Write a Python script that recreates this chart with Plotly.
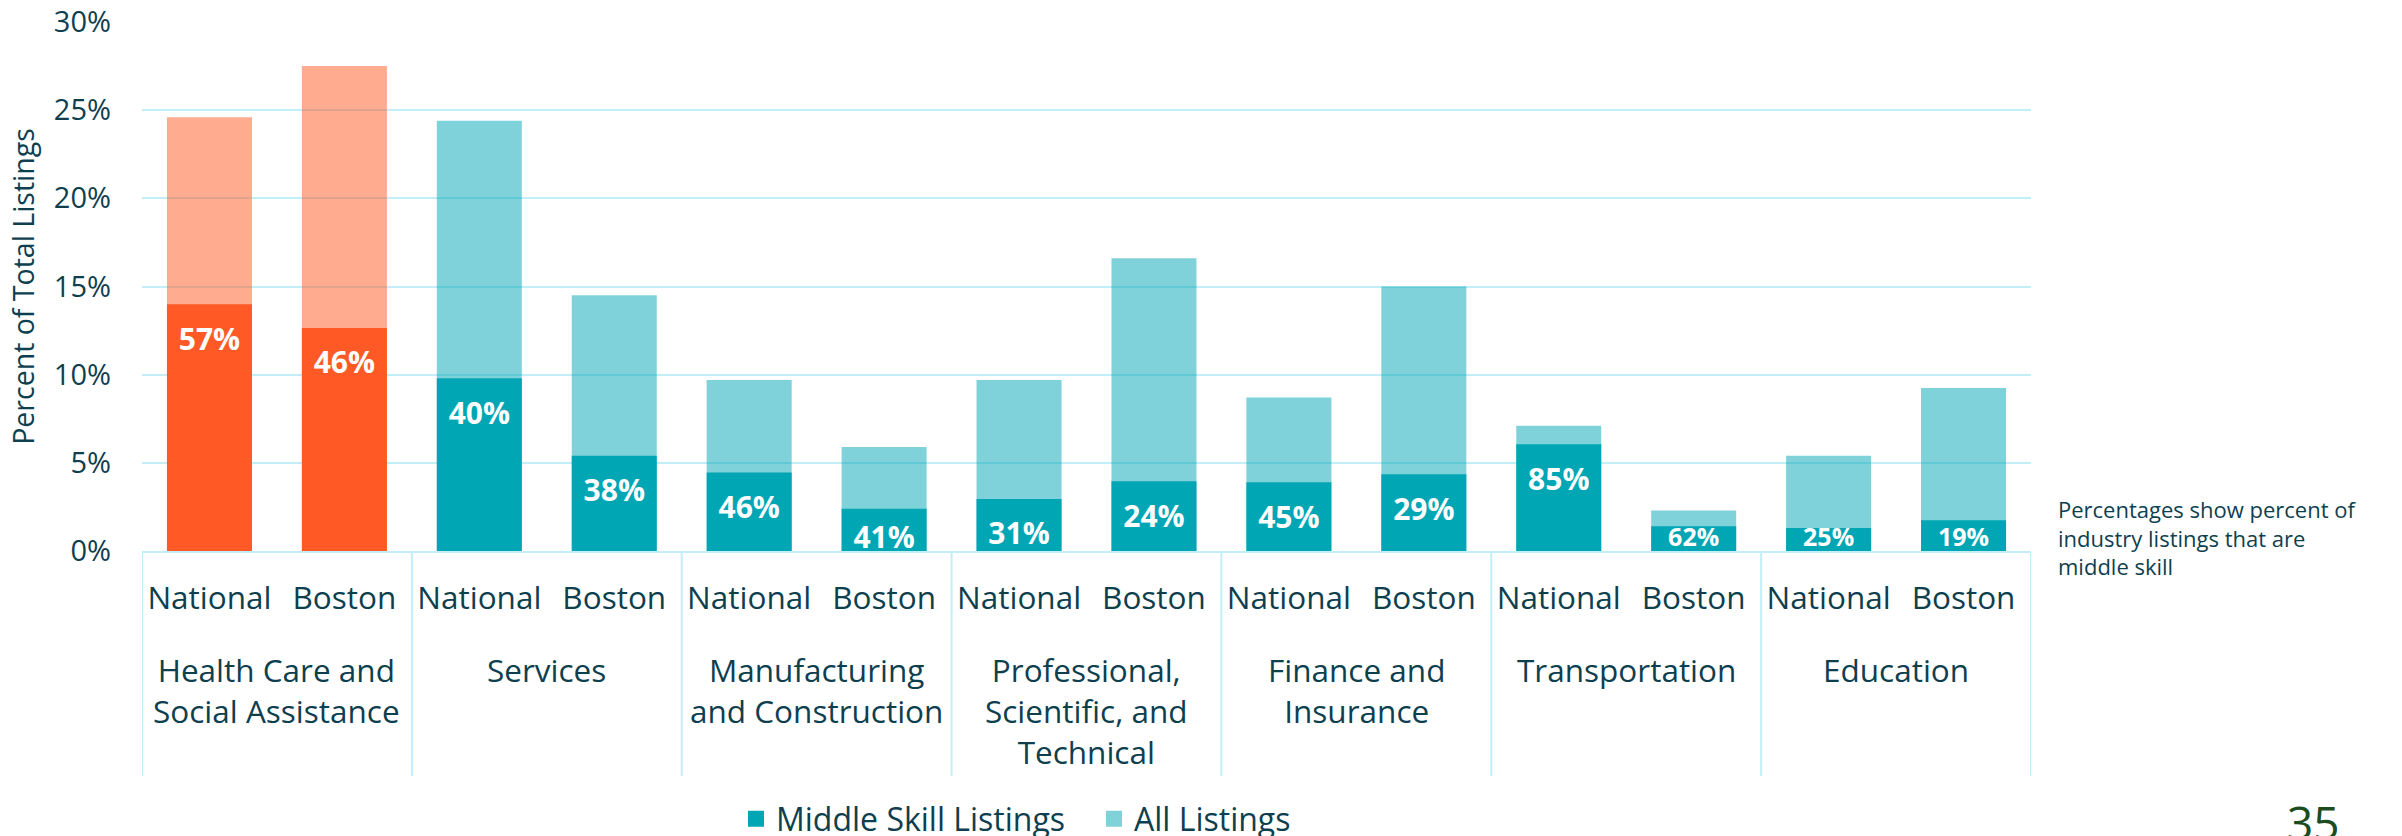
import plotly.graph_objects as go

# ---------------- data ----------------
industries = [
    "Health Care and<br>Social Assistance",
    "Services",
    "Manufacturing<br>and Construction",
    "Professional,<br>Scientific, and<br>Technical",
    "Finance and<br>Insurance",
    "Transportation",
    "Education",
]
regions = ["National", "Boston"]
# percent of total listings (National, Boston per industry)
all_listings = [24.6, 27.5, 24.4, 14.5, 9.7, 5.9, 9.7, 16.6, 8.7, 15.0, 7.1, 2.3, 5.4, 9.25]
middle_skill = [14.0, 12.65, 9.8, 5.4, 4.45, 2.4, 2.95, 3.95, 3.9, 4.35, 6.05, 1.4, 1.3, 1.75]
share_labels = ["57%", "46%", "40%", "38%", "46%", "41%", "31%", "24%",
                "45%", "29%", "85%", "62%", "25%", "19%"]
series_names = ["Middle Skill Listings", "All Listings"]
y_ticks = [0, 5, 10, 15, 20, 25, 30]
y_tick_labels = ["0%", "5%", "10%", "15%", "20%", "25%", "30%"]
note_text = "Percentages show percent of<br>industry listings that are<br>middle skill"
page_number = "35"

# ---------------- styling ----------------
FONT = "Open Sans"
TXT = "#0E3F4F"
GRID = "#C2EEF8"
TEAL = "#00A6B4"
TEAL_L = "rgba(0,166,180,0.5)"
ORANGE = "#FF5A26"
ORANGE_L = "rgba(255,87,34,0.5)"
highlight = industries[0]

W, H = 2402, 836
ML, MR, MT, MB = 142, 371, 22, 285
plot_h = H - MT - MB
plot_w = W - ML - MR
ppp = plot_h / (y_ticks[-1] - y_ticks[0])  # pixels per percent point

n_reg = len(regions)
x_ind = [ind for ind in industries for _ in regions]
x_reg = [r for _ in industries for r in regions]
x_pos = list(range(len(x_reg)))

dark_colors = [ORANGE if c == highlight else TEAL for c in x_ind]
light_colors = [ORANGE_L if c == highlight else TEAL_L for c in x_ind]

# label placement: ~38px below bar top, but kept above the axis for short bars
lab_y, lab_size = [], []
for v in middle_skill:
    px = v * ppp
    lab_y.append((px - 38) / ppp if px - 38 >= 11 else 11 / ppp)
    lab_size.append(30 if v >= 2 else 25)

fig = go.Figure()
fig.add_trace(go.Bar(x=x_pos, y=all_listings, name=series_names[1], width=0.63,
                     marker=dict(color=light_colors, line=dict(width=0)),
                     showlegend=False, hoverinfo="y"))
fig.add_trace(go.Bar(x=x_pos, y=middle_skill, name=series_names[0], width=0.63,
                     marker=dict(color=dark_colors, line=dict(width=0)),
                     showlegend=False, hoverinfo="y"))
fig.add_trace(go.Scatter(x=x_pos, y=lab_y, mode="text", text=share_labels,
                         textposition="middle center",
                         textfont=dict(family=FONT, size=lab_size, color="white", weight="bold"),
                         showlegend=False, hoverinfo="skip"))
# legend entries
fig.add_trace(go.Scatter(x=[None], y=[None], mode="markers", name=series_names[0],
                         marker=dict(symbol="square", size=19, color=TEAL)))
fig.add_trace(go.Scatter(x=[None], y=[None], mode="markers", name=series_names[1],
                         marker=dict(symbol="square", size=19, color="#81D2D8")))

# industry group labels and dividers
annotations = []
shapes = []
div_bottom = (H - MB - 776) / plot_h
for i, ind in enumerate(industries):
    annotations.append(dict(text=ind, x=i * n_reg + (n_reg - 1) / 2, xref="x", y=0, yref="paper",
                            xanchor="center", yanchor="top", yshift=-95, showarrow=False,
                            align="center", font=dict(size=31.5, color=TXT)))
for i in range(len(industries) + 1):
    xd = i * n_reg - 0.5
    shapes.append(dict(type="line", xref="x", yref="paper", x0=xd, x1=xd, y0=0, y1=div_bottom,
                       line=dict(color=GRID, width=2), layer="below"))

annotations += [
    dict(text=note_text, xref="paper", yref="paper", x=(2056 - ML) / plot_w,
         y=(H - MB - 537) / plot_h, xanchor="left", yanchor="middle", align="left",
         showarrow=False, font=dict(size=22, color=TXT)),
    dict(text=page_number, xref="paper", yref="paper", x=(2313 - ML) / plot_w,
         y=(H - MB - 822) / plot_h, xanchor="center", yanchor="middle",
         showarrow=False, font=dict(size=46, color="#1B4D1F")),
]

fig.update_layout(
    width=W, height=H, autosize=False,
    margin=dict(l=ML, r=MR, t=MT, b=MB, autoexpand=False),
    paper_bgcolor="white", plot_bgcolor="white",
    barmode="overlay",
    font=dict(family=FONT, color=TXT),
    showlegend=True,
    legend=dict(orientation="h", x=(748 - 12 - ML) / plot_w, xanchor="left",
                y=(H - MB - 819) / plot_h, yanchor="middle",
                font=dict(size=32, color=TXT), itemwidth=30, tracegroupgap=0,
                entrywidth=313, bgcolor="rgba(0,0,0,0)"),
    xaxis=dict(range=[-0.5, len(x_pos) - 0.5], tickvals=x_pos, ticktext=x_reg,
               tickfont=dict(size=31.5, color=TXT), tickangle=0, automargin=False,
               ticklabelstandoff=18, showgrid=False, zeroline=False,
               showline=True, linecolor=GRID, linewidth=2, ticks=""),
    yaxis=dict(range=[y_ticks[0], y_ticks[-1]], tickvals=y_ticks, ticktext=y_tick_labels,
               showgrid=True, gridcolor=GRID, gridwidth=2, zeroline=False, showline=False,
               tickfont=dict(size=29, color=TXT), ticklabelstandoff=30, automargin=False,
               title=dict(text="Percent of Total Listings", font=dict(size=28.5, color=TXT),
                          standoff=10)),
    annotations=annotations,
    shapes=shapes,
)

fig.write_html("out.html", config={"displayModeBar": False},
               post_script="document.body.style.margin='0';document.body.style.overflow='hidden';")
